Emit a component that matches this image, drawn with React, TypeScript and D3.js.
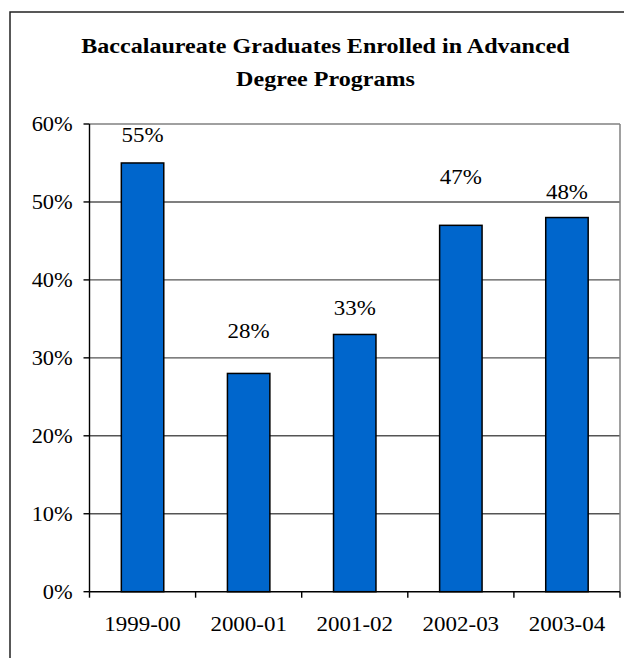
import { useRef, useEffect } from 'react';
import * as d3 from 'd3';

const YEARS = ['1999-00', '2000-01', '2001-02', '2002-03', '2003-04'];
const ENROLLED = [0.55, 0.28, 0.33, 0.47, 0.48];
const Y_TICKS = [0, 0.1, 0.2, 0.3, 0.4, 0.5, 0.6];
const TITLE_LINES = ['Baccalaureate Graduates Enrolled in Advanced', 'Degree Programs'];

// the source chart was stretched sideways, so text gets the same squash
const STRETCH = 1.12;
const FONT = "'Liberation Serif', 'Times New Roman', 'DejaVu Serif', serif";
// gap between bar top and label baseline (labels were hand-placed in the original)
const LABEL_LIFT = [21, 35, 19, 41, 19];

function EnrollmentChart() {
  const svgRef = useRef<SVGSVGElement>(null);

  useEffect(() => {
    const svg = d3.select(svgRef.current);
    svg.selectAll('*').remove();

    const W = 624, H = 658;
    const plot = { left: 89.5, right: 620, top: 124, bottom: 591.7 };

    svg.attr('width', W).attr('height', H);

    svg.append('rect')
      .attr('width', W).attr('height', H)
      .attr('fill', '#fff');

    // outer chart frame (runs off the right and bottom edges)
    svg.append('rect')
      .attr('x', 10).attr('y', 12)
      .attr('width', 632).attr('height', 700)
      .attr('fill', 'none')
      .attr('stroke', '#222')
      .attr('stroke-width', 1.5);

    const stretchedText = (x: number, y: number, txt: string, size: number, anchor: string, weight = 'normal') => {
      svg.append('text')
        .attr('transform', `translate(${x},${y}) scale(${STRETCH},1)`)
        .attr('text-anchor', anchor)
        .style('font-family', FONT)
        .style('font-size', `${size}px`)
        .style('font-weight', weight)
        .attr('fill', '#000')
        .text(txt);
    };

    // Title
    TITLE_LINES.forEach((line, i) => stretchedText(325.5, 53.3 + i * 32.7, line, 21.5, 'middle', 'bold'));

    const x = d3.scaleBand()
      .domain(YEARS)
      .range([plot.left, plot.right])
      .paddingInner(0.6)
      .paddingOuter(0.3);

    const y = d3.scaleLinear()
      .domain([0, 0.6])
      .range([plot.bottom, plot.top]);

    // Gridlines
    svg.append('g')
      .selectAll('line')
      .data(Y_TICKS.filter(t => t > 0))
      .enter()
      .append('line')
      .attr('x1', plot.left).attr('x2', plot.right)
      .attr('y1', d => y(d)).attr('y2', d => y(d))
      .attr('stroke', d => d === 0.6 ? '#808080' : '#555')
      .attr('stroke-width', 1.4);

    // right edge of plot area
    svg.append('line')
      .attr('x1', plot.right).attr('x2', plot.right)
      .attr('y1', plot.top).attr('y2', plot.bottom)
      .attr('stroke', '#808080')
      .attr('stroke-width', 1.5);

    // Bars
    svg.append('g')
      .selectAll('rect')
      .data(ENROLLED)
      .enter()
      .append('rect')
      .attr('x', (d, i) => x(YEARS[i])!)
      .attr('y', d => y(d))
      .attr('width', x.bandwidth())
      .attr('height', d => y(0) - y(d))
      .attr('fill', '#0066CC')
      .attr('stroke', '#000')
      .attr('stroke-width', 1.5);

    // Y axis
    const yAxis = svg.append('g');
    yAxis.append('line')
      .attr('x1', plot.left).attr('x2', plot.left)
      .attr('y1', plot.top).attr('y2', plot.bottom)
      .attr('stroke', '#000').attr('stroke-width', 1.4);
    Y_TICKS.forEach(t => {
      yAxis.append('line')
        .attr('x1', plot.left - 6).attr('x2', plot.left)
        .attr('y1', y(t)).attr('y2', y(t))
        .attr('stroke', '#000').attr('stroke-width', 1.4);
      stretchedText(72.7, y(t) + 6.8, d3.format('.0%')(t), 20, 'end');
    });

    // X axis
    const xAxis = svg.append('g');
    xAxis.append('line')
      .attr('x1', plot.left).attr('x2', plot.right)
      .attr('y1', plot.bottom).attr('y2', plot.bottom)
      .attr('stroke', '#000').attr('stroke-width', 1.4);
    const step = x.step();
    d3.range(YEARS.length + 1).forEach(i => {
      const tx = plot.left + i * step;
      xAxis.append('line')
        .attr('x1', tx).attr('x2', tx)
        .attr('y1', plot.bottom).attr('y2', plot.bottom + 6)
        .attr('stroke', '#000').attr('stroke-width', 1.4);
    });
    YEARS.forEach(yr => stretchedText(x(yr)! + x.bandwidth() / 2, plot.bottom + 39, yr, 20.5, 'middle'));

    // Value labels
    ENROLLED.forEach((v, i) => {
      stretchedText(x(YEARS[i])! + x.bandwidth() / 2, y(v) - LABEL_LIFT[i], d3.format('.0%')(v), 20.5, 'middle');
    });
  }, []);

  return <svg ref={svgRef} style={{ position: 'absolute', left: 0, top: 0, display: 'block' }}></svg>;
}

export default function App() {
  return <EnrollmentChart />;
}
